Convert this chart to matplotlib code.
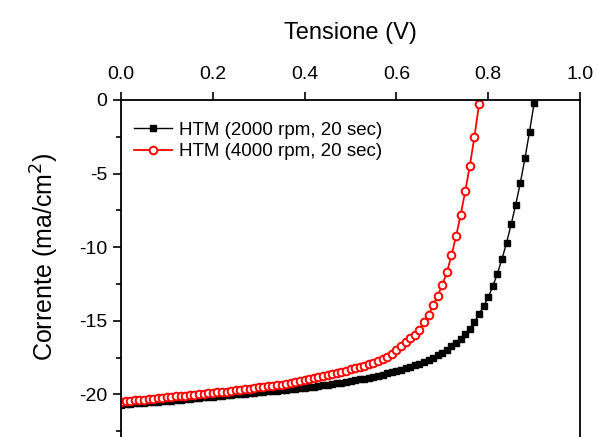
import matplotlib
matplotlib.use('Agg')
import matplotlib.pyplot as plt
import numpy as np

plt.rcParams['font.family'] = ['Liberation Sans', 'DejaVu Sans']
plt.rcParams['axes.unicode_minus'] = False

# Tensione (V) - passo 10 mV
v_2000 = [0.00, 0.01, 0.02, 0.03, 0.04, 0.05, 0.06, 0.07, 0.08, 0.09,
          0.10, 0.11, 0.12, 0.13, 0.14, 0.15, 0.16, 0.17, 0.18, 0.19,
          0.20, 0.21, 0.22, 0.23, 0.24, 0.25, 0.26, 0.27, 0.28, 0.29,
          0.30, 0.31, 0.32, 0.33, 0.34, 0.35, 0.36, 0.37, 0.38, 0.39,
          0.40, 0.41, 0.42, 0.43, 0.44, 0.45, 0.46, 0.47, 0.48, 0.49,
          0.50, 0.51, 0.52, 0.53, 0.54, 0.55, 0.56, 0.57, 0.58, 0.59,
          0.60, 0.61, 0.62, 0.63, 0.64, 0.65, 0.66, 0.67, 0.68, 0.69,
          0.70, 0.71, 0.72, 0.73, 0.74, 0.75, 0.76, 0.77, 0.78, 0.79,
          0.80, 0.81, 0.82, 0.83, 0.84, 0.85, 0.86, 0.87, 0.88, 0.89,
          0.90]
j_2000 = [-20.70, -20.67, -20.64, -20.61, -20.58, -20.56, -20.53, -20.51, -20.49, -20.47,
          -20.45, -20.42, -20.39, -20.36, -20.33, -20.30, -20.27, -20.24, -20.21, -20.18,
          -20.15, -20.12, -20.09, -20.06, -20.03, -20.00, -19.97, -19.94, -19.91, -19.88,
          -19.85, -19.82, -19.80, -19.78, -19.75, -19.72, -19.69, -19.66, -19.63, -19.59,
          -19.55, -19.51, -19.47, -19.43, -19.39, -19.35, -19.30, -19.25, -19.20, -19.15,
          -19.10, -19.04, -18.98, -18.92, -18.86, -18.80, -18.73, -18.66, -18.58, -18.50,
          -18.42, -18.33, -18.24, -18.14, -18.03, -17.92, -17.80, -17.66, -17.51, -17.35,
          -17.16, -16.95, -16.73, -16.49, -16.23, -15.93, -15.55, -15.10, -14.55, -14.00,
          -13.40, -12.65, -11.80, -10.80, -9.70, -8.45, -7.10, -5.63, -3.97, -2.16,
          -0.22]

v_4000 = [0.00, 0.01, 0.02, 0.03, 0.04, 0.05, 0.06, 0.07, 0.08, 0.09,
          0.10, 0.11, 0.12, 0.13, 0.14, 0.15, 0.16, 0.17, 0.18, 0.19,
          0.20, 0.21, 0.22, 0.23, 0.24, 0.25, 0.26, 0.27, 0.28, 0.29,
          0.30, 0.31, 0.32, 0.33, 0.34, 0.35, 0.36, 0.37, 0.38, 0.39,
          0.40, 0.41, 0.42, 0.43, 0.44, 0.45, 0.46, 0.47, 0.48, 0.49,
          0.50, 0.51, 0.52, 0.53, 0.54, 0.55, 0.56, 0.57, 0.58, 0.59,
          0.60, 0.61, 0.62, 0.63, 0.64, 0.65, 0.66, 0.67, 0.68, 0.69,
          0.70, 0.71, 0.72, 0.73, 0.74, 0.75, 0.76, 0.77, 0.78]
j_4000 = [-20.50, -20.47, -20.44, -20.41, -20.38, -20.35, -20.32, -20.29, -20.26, -20.23,
          -20.20, -20.17, -20.14, -20.11, -20.08, -20.05, -20.02, -19.99, -19.96, -19.93,
          -19.90, -19.87, -19.84, -19.81, -19.77, -19.73, -19.69, -19.65, -19.61, -19.57,
          -19.53, -19.49, -19.45, -19.41, -19.37, -19.33, -19.28, -19.23, -19.18, -19.12,
          -19.05, -18.98, -18.91, -18.84, -18.77, -18.70, -18.62, -18.54, -18.46, -18.38,
          -18.30, -18.22, -18.14, -18.05, -17.95, -17.84, -17.72, -17.60, -17.45, -17.28,
          -17.00, -16.72, -16.45, -16.20, -15.95, -15.60, -15.10, -14.60, -13.95, -13.30,
          -12.55, -11.70, -10.55, -9.25, -7.80, -6.20, -4.45, -2.50, -0.30]

fig = plt.figure(figsize=(5.97, 4.37), dpi=100)
ax = fig.add_axes([121 / 597, 0, 459 / 597, 337 / 437])

ax.plot(v_2000, j_2000, color='black', lw=1.0, marker='s', ms=5,
        mfc='black', mec='black', label='HTM (2000 rpm, 20 sec)')
ax.plot(v_4000, j_4000, color='red', lw=1.3, marker='o', ms=5.5, mfc='white',
        mec='red', mew=1.4, label='HTM (4000 rpm, 20 sec)')

ax.set_xlim(0, 1.0)
ax.set_ylim(-337 / 14.72, 0)

# asse x in alto
ax.xaxis.tick_top()
ax.xaxis.set_label_position('top')
ax.set_xticks([0.0, 0.2, 0.4, 0.6, 0.8, 1.0])
ax.set_xticklabels(['0.0', '0.2', '0.4', '0.6', '0.8', '1.0'])
ax.set_yticks([0, -5, -10, -15, -20])
ax.set_yticks([-2.5, -7.5, -12.5, -17.5, -22.5], minor=True)

ax.tick_params(axis='x', which='major', direction='out', length=6, width=1.2,
               labelsize=14, pad=6)
ax.tick_params(axis='y', which='major', direction='out', length=6, width=1.2,
               labelsize=14, pad=4)
ax.tick_params(axis='y', which='minor', direction='out', length=3.5, width=1.2)

ax.spines['bottom'].set_visible(False)
for s in ['top', 'left', 'right']:
    ax.spines[s].set_linewidth(1.3)

ax.set_xlabel('Tensione (V)', fontsize=17)
ax.xaxis.set_label_coords(0.5, (437 - 33) / 337)
ax.xaxis.label.set_va('center')
ax.set_ylabel('Corrente (ma/cm$^2$)', fontsize=18)
ax.yaxis.set_label_coords((45 - 121) / 459, (437 - 257) / 337)
ax.yaxis.label.set_va('center')

ax.legend(loc='upper left', bbox_to_anchor=(0.0, 0.975), frameon=False,
          fontsize=13.5, numpoints=1, handlelength=2.0, handletextpad=0.4,
          labelspacing=0.25, borderaxespad=0.3)

fig.savefig('out.png', dpi=100)
